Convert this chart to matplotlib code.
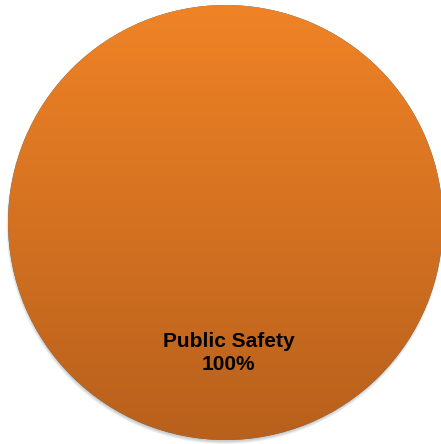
import matplotlib.pyplot as plt
import numpy as np
from matplotlib.colors import LinearSegmentedColormap
from matplotlib.patches import Circle

# Data
categories = ["Public Safety"]
values = [100]

# Colours for the vertical gradient (top -> bottom)
top_color = "#F08326"
bottom_color = "#B8601C"

W, H = 441, 444
fig = plt.figure(figsize=(W / 100, H / 100), dpi=100)
ax = fig.add_axes([0, 0, 1, 1])

cx, cy = 225.5, H - 222.5
r = 217.5

# soft shadow under the pie
for i in range(6):
    ax.add_patch(Circle((cx - 0.5, cy - 3), r + 1 - i * 0.6, color="#7f7f7f",
                        alpha=0.08, lw=0, zorder=0))

wedges, texts, autotexts = ax.pie(
    values, radius=r, center=(cx, cy), startangle=90, counterclock=False,
    autopct=lambda p: f"{categories[0]}\n{p:.0f}%", pctdistance=0.6,
    wedgeprops=dict(linewidth=0), frame=True,
    textprops=dict(fontsize=15, fontweight="bold", family="Liberation Sans",
                   color="black", linespacing=1.22),
)
ax.set_xlim(0, W)
ax.set_ylim(0, H)
ax.set_aspect("auto")
ax.axis("off")

# vertical gradient clipped to the wedge
cmap = LinearSegmentedColormap.from_list("grad", [bottom_color, top_color])
grad = np.linspace(0, 1, 256).reshape(-1, 1)
im = ax.imshow(grad, cmap=cmap, origin="lower", aspect="auto",
               extent=(cx - r, cx + r, cy - r, cy + r), zorder=1)
im.set_clip_path(wedges[0])
for t in autotexts:
    t.set_zorder(3)
    x, y = t.get_position()
    t.set_position((x + 3, y))

fig.savefig("out.png", dpi=100)
